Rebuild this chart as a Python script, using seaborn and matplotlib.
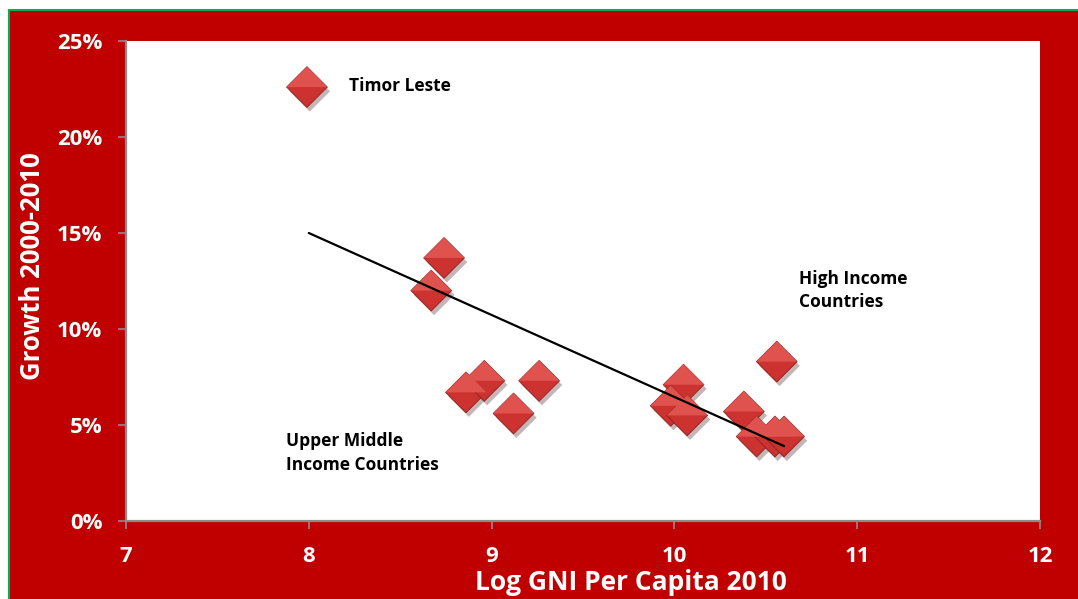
import matplotlib
matplotlib.use("Agg")
import matplotlib.pyplot as plt
import matplotlib.patheffects as pe
from matplotlib.path import Path
from matplotlib.markers import MarkerStyle
from matplotlib.patches import Rectangle
from matplotlib.lines import Line2D
from matplotlib.ticker import PercentFormatter
import seaborn as sns
import pandas as pd

sns.set_theme(style="white")
plt.rcParams['font.family'] = ['Open Sans', 'DejaVu Sans']

# values
log_gni = [7.99, 8.74, 8.67, 8.86, 8.96, 9.12, 9.26, 10.05, 9.98, 10.07,
           10.56, 10.38, 10.45, 10.55, 10.60]
growth = [22.6, 13.7, 12.0, 6.7, 7.3, 5.6, 7.3, 7.1, 6.0, 5.5,
          8.3, 5.7, 4.4, 4.4, 4.4]
trend_x = [8.0, 10.6]
trend_y = [15.0, 3.9]
x_ticks = [7, 8, 9, 10, 11, 12]
y_ticks = [0, 5, 10, 15, 20, 25]

df = pd.DataFrame({'gni': log_gni, 'growth': growth})
trend = pd.DataFrame({'gni': trend_x, 'growth': trend_y})

RED = '#C00000'
# full diamond and its lit upper half, same scale (extent 1)
diamond = MarkerStyle(Path([(-1, 0), (0, 1), (1, 0), (0, -1), (-1, 0)],
                           [1, 2, 2, 2, 79]))
top_half = MarkerStyle(Path([(-1, 0), (0, 1), (1, 0), (-1, 0)], [1, 2, 2, 79]))

fig = plt.figure(figsize=(10.78, 5.99), dpi=100, facecolor='white')
fig.patches.append(Rectangle((10 / 1078, 0), 1, (599 - 11) / 599,
                             transform=fig.transFigure, facecolor=RED,
                             edgecolor='none', zorder=-10))
fig.lines.append(Line2D([9 / 1078, 9 / 1078], [0, (599 - 10) / 599],
                        transform=fig.transFigure, color='#00B050', lw=1.5))
fig.lines.append(Line2D([9 / 1078, 1], [(599 - 10) / 599, (599 - 10) / 599],
                        transform=fig.transFigure, color='#00B050', lw=1.5))

ax = fig.add_axes([126 / 1078, 78 / 599, 914 / 1078, 480 / 599])
ax.set_facecolor('white')

sns.scatterplot(data=df, x='gni', y='growth', marker=diamond, s=860,
                color='#CC3330', edgecolor='#8E1E1E', linewidth=0.6, ax=ax,
                zorder=3,
                path_effects=[pe.SimplePatchShadow(offset=(2, -3), alpha=0.3),
                              pe.Normal()])
sns.scatterplot(data=df, x='gni', y='growth', marker=top_half, s=860,
                color='#E0524E', edgecolor='none', linewidth=0, ax=ax,
                zorder=3.1)
sns.lineplot(data=trend, x='gni', y='growth', color='black', lw=1.6, ax=ax,
             zorder=4)

ax.set_xlim(7, 12)
ax.set_ylim(0, 25)
ax.set_xticks(x_ticks)
ax.set_yticks(y_ticks)
ax.yaxis.set_major_formatter(PercentFormatter(decimals=0))

for side in ['top', 'right']:
    ax.spines[side].set_visible(False)
for side in ['left', 'bottom']:
    ax.spines[side].set_color('#8C8C8C')
    ax.spines[side].set_linewidth(1.6)

ax.tick_params(axis='both', direction='out', length=6, width=1.2,
               color='#8C8C8C', labelcolor='white', labelsize=16,
               left=True, bottom=True)
ax.tick_params(axis='y', pad=11)
ax.tick_params(axis='x', pad=12)
for lab in ax.get_xticklabels() + ax.get_yticklabels():
    lab.set_fontweight('bold')

ax.set_xlabel('Log GNI Per Capita 2010', color='white', fontsize=19,
              fontweight='bold')
ax.set_ylabel('Growth 2000-2010', color='white', fontsize=18.5,
              fontweight='bold')
ax.xaxis.set_label_coords(0.5525, -0.1)
ax.yaxis.set_label_coords(-0.088, 0.53)

ax.text(8.22, 22.65, 'Timor Leste', fontsize=12.5, fontweight='bold',
        color='black', va='center', ha='left')
ax.text(10.68, 12.0, 'High Income\nCountries', fontsize=12.5,
        fontweight='bold', color='black', va='center', ha='left',
        linespacing=1.4)
ax.text(7.875, 3.55, 'Upper Middle\nIncome Countries', fontsize=12.5,
        fontweight='bold', color='black', va='center', ha='left',
        linespacing=1.4)

fig.savefig('out.png', dpi=100, facecolor=fig.get_facecolor())
